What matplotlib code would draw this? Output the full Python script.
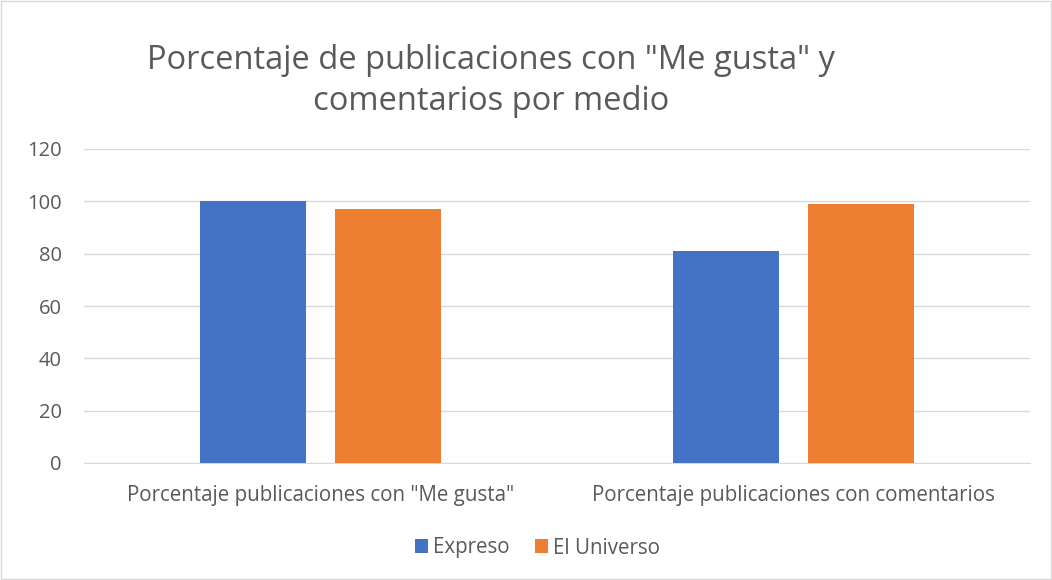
import matplotlib
matplotlib.use("Agg")
import matplotlib.pyplot as plt
import numpy as np

categories = ['Porcentaje publicaciones con "Me gusta"', 'Porcentaje publicaciones con comentarios']
series_names = ['Expreso', 'El Universo']
expreso = [100, 81]
el_universo = [97, 99]
colors = ['#4472C4', '#ED7D31']

plt.rcParams['font.family'] = ['Open Sans', 'DejaVu Sans']

fig = plt.figure(figsize=(10.52, 5.8), dpi=100)
ax = fig.add_axes([84/1052, 1-463/580, (1030-84)/1052, (463-149)/580])

x = np.arange(len(categories))
w = 0.224
gap = 0.061
ax.bar(x - (w+gap)/2, expreso, w, color=colors[0], label=series_names[0], zorder=3)
ax.bar(x + (w+gap)/2, el_universo, w, color=colors[1], label=series_names[1], zorder=3)

ax.set_xlim(-0.5, 1.5)
ax.set_ylim(0, 120)
ax.set_yticks(range(0, 121, 20))
ax.set_xticks(x)
ax.set_xticklabels(categories, fontsize=14.8)
ax.grid(axis='y', color='#D9D9D9', linewidth=1, zorder=0)
for s in ['top', 'right', 'left']:
    ax.spines[s].set_visible(False)
ax.spines['bottom'].set_color('#D9D9D9')
ax.tick_params(axis='both', length=0, colors='#595959')
ax.tick_params(axis='y', pad=16, labelsize=14.5)
ax.tick_params(axis='x', pad=16)

fig.text(0.467, 1-81/580, 'Porcentaje de publicaciones con "Me gusta" y\ncomentarios por medio',
         ha='center', va='center', fontsize=23.5, color='#595959', linespacing=1.32)

leg = fig.legend(loc='center', bbox_to_anchor=(0.511, 1-548/580), ncol=2, frameon=False,
                 fontsize=14.8, labelcolor='#595959', handlelength=0.65, handleheight=0.65,
                 columnspacing=1.2, handletextpad=0.25)

fig.patches.append(plt.Rectangle((0.001, 0.001), 0.998, 0.998, transform=fig.transFigure,
                                 fill=False, edgecolor='#D9D9D9', linewidth=1))

fig.savefig('out.png', dpi=100)
